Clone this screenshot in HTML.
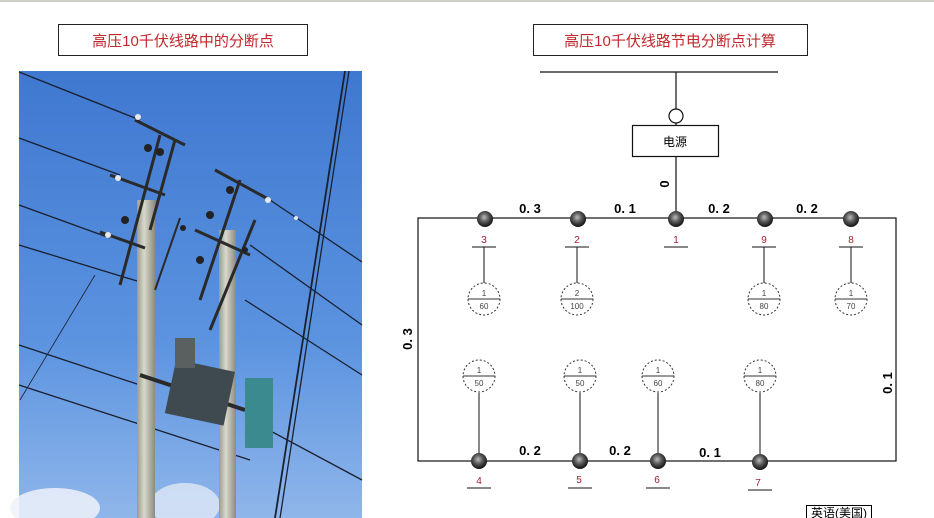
<!DOCTYPE html>
<html><head><meta charset="utf-8"><style>
html,body{margin:0;padding:0;background:#fff;}
svg{display:block;}
.t{font-family:"Liberation Sans","Noto Sans CJK SC",sans-serif;}
</style></head><body>
<svg width="934" height="518" viewBox="0 0 934 518" xmlns="http://www.w3.org/2000/svg">
<defs>
<linearGradient id="sky" x1="0" y1="0" x2="0" y2="1">
<stop offset="0" stop-color="#3f78d0"/><stop offset="0.6" stop-color="#5b93e0"/><stop offset="1" stop-color="#8fb6ea"/></linearGradient>
<radialGradient id="ball" cx="0.45" cy="0.4" r="0.6">
<stop offset="0" stop-color="#bbb"/><stop offset="0.5" stop-color="#555"/><stop offset="1" stop-color="#111"/></radialGradient>
<linearGradient id="pole" x1="0" x2="1"><stop offset="0" stop-color="#9a9a90"/><stop offset="0.4" stop-color="#d8d8cc"/><stop offset="1" stop-color="#8a8a80"/></linearGradient>
</defs>
<rect x="0" y="0" width="934" height="2" fill="#d0d0c8"/>
<rect x="58.5" y="24.5" width="249" height="31" fill="#fff" stroke="#222"/>
<text x="183" y="46" class="t" font-size="15" fill="#c0282c" text-anchor="middle">高压10千伏线路中的分断点</text>
<rect x="19" y="71" width="343" height="447" fill="url(#sky)"/>
<ellipse cx="55" cy="508" rx="45" ry="20" fill="#eef2fa" opacity="0.85"/>
<ellipse cx="185" cy="505" rx="35" ry="22" fill="#e6ecf8" opacity="0.75"/>
<g stroke="#1a2030" stroke-width="1.3" fill="none">
<line x1="19" y1="72" x2="140" y2="120"/>
<line x1="19" y1="138" x2="120" y2="175"/>
<line x1="19" y1="205" x2="110" y2="238"/>
<line x1="19" y1="245" x2="150" y2="285"/>
<line x1="19" y1="345" x2="140" y2="385"/>
<line x1="19" y1="385" x2="250" y2="460"/>
<line x1="270" y1="200" x2="362" y2="262"/>
<line x1="250" y1="245" x2="362" y2="325"/>
<line x1="245" y1="300" x2="362" y2="375"/>
<line x1="250" y1="420" x2="362" y2="480"/>
<line x1="345" y1="71" x2="275" y2="518" stroke-width="1.8"/>
<line x1="349" y1="71" x2="280" y2="518"/>
<line x1="95" y1="275" x2="20" y2="400" stroke-width="0.8"/>
</g>
<rect x="137" y="200" width="18" height="318" fill="url(#pole)"/>
<rect x="219" y="230" width="17" height="288" fill="url(#pole)"/>
<g stroke="#2a2a2a" stroke-width="3" fill="none">
<line x1="135" y1="120" x2="185" y2="145"/>
<line x1="110" y1="175" x2="165" y2="195"/>
<line x1="100" y1="232" x2="145" y2="248"/>
<line x1="215" y1="170" x2="270" y2="200"/>
<line x1="195" y1="230" x2="250" y2="255"/>
<line x1="160" y1="135" x2="120" y2="285"/>
<line x1="175" y1="140" x2="150" y2="230"/>
<line x1="240" y1="180" x2="200" y2="300"/>
<line x1="255" y1="220" x2="210" y2="330"/>
<line x1="180" y1="218" x2="155" y2="290" stroke-width="2"/>
<line x1="140" y1="375" x2="245" y2="410" stroke-width="4"/>
</g>
<g fill="#222">
<circle cx="148" cy="148" r="4"/><circle cx="160" cy="152" r="4"/><circle cx="125" cy="220" r="4"/><circle cx="230" cy="190" r="4"/><circle cx="210" cy="215" r="4"/><circle cx="200" cy="260" r="4"/><circle cx="245" cy="250" r="3"/><circle cx="183" cy="228" r="3"/>
</g>
<g fill="#e8e8e8"><circle cx="138" cy="117" r="3"/><circle cx="118" cy="178" r="3"/><circle cx="108" cy="235" r="3"/><circle cx="268" cy="200" r="3"/><circle cx="296" cy="218" r="2"/></g>
<rect x="170" y="365" width="60" height="55" fill="#3e4a50" transform="rotate(12 200 392)"/>
<rect x="175" y="338" width="20" height="30" fill="#5a6060"/>
<rect x="245" y="378" width="28" height="70" fill="#3a8a90"/>
<rect x="533.5" y="24.5" width="274" height="31" fill="#fff" stroke="#222"/>
<text x="670" y="46" class="t" font-size="15" fill="#c0282c" text-anchor="middle">高压10千伏线路节电分断点计算</text>
<g stroke="#111" stroke-width="1.2" fill="none">
<line x1="540" y1="72" x2="778" y2="72"/>
<line x1="676" y1="72" x2="676" y2="109"/>
<circle cx="676" cy="116" r="7" fill="#fff"/>
<line x1="676" y1="123" x2="676" y2="125"/>
<rect x="632.5" y="125.5" width="86" height="31" fill="#fff"/>
<line x1="676" y1="157" x2="676" y2="218"/>
<rect x="418" y="218" width="478" height="243"/>
</g>
<text x="675" y="146" class="t" font-size="12" text-anchor="middle" fill="#000">电源</text>
<text x="0" y="0" class="t" font-size="13" font-weight="bold" transform="translate(669,184) rotate(-90)" text-anchor="middle">0</text>
<g class="t" font-size="13" font-weight="bold" fill="#000" text-anchor="middle" font-family="Liberation Mono, monospace">
<text x="530" y="213">0. 3</text><text x="625" y="213">0. 1</text><text x="719" y="213">0. 2</text><text x="807" y="213">0. 2</text>
<text x="530" y="455">0. 2</text><text x="620" y="455">0. 2</text><text x="710" y="457">0. 1</text>
<text transform="translate(412,339) rotate(-90)">0. 3</text>
<text transform="translate(892,383) rotate(-90)">0. 1</text>
</g>
<g class="t" font-size="10" fill="#a02030" text-anchor="middle">
<text x="484" y="243">3</text><text x="577" y="243">2</text><text x="676" y="243">1</text><text x="764" y="243">9</text><text x="851" y="243">8</text>
<text x="479" y="484">4</text><text x="579" y="483">5</text><text x="657" y="483">6</text><text x="758" y="486">7</text>
</g>
<g stroke="#111" stroke-width="1">
<line x1="472" y1="247" x2="496" y2="247"/><line x1="565" y1="247" x2="589" y2="247"/><line x1="664" y1="247" x2="688" y2="247"/><line x1="752" y1="247" x2="776" y2="247"/><line x1="839" y1="247" x2="863" y2="247"/>
<line x1="467" y1="488" x2="491" y2="488"/><line x1="568" y1="488" x2="592" y2="488"/><line x1="646" y1="488" x2="670" y2="488"/><line x1="748" y1="490" x2="772" y2="490"/>
<line x1="484" y1="247" x2="484" y2="284"/><line x1="577" y1="247" x2="577" y2="284"/><line x1="764" y1="247" x2="764" y2="284"/><line x1="851" y1="247" x2="851" y2="284"/>
<line x1="479" y1="393" x2="479" y2="461"/><line x1="580" y1="393" x2="580" y2="461"/><line x1="658" y1="393" x2="658" y2="461"/><line x1="760" y1="393" x2="760" y2="461"/>
</g>
<g fill="url(#ball)">
<circle cx="485" cy="219" r="8"/><circle cx="578" cy="219" r="8"/><circle cx="676" cy="219" r="8"/><circle cx="765" cy="219" r="8"/><circle cx="851" cy="219" r="8"/>
<circle cx="479" cy="461" r="8"/><circle cx="580" cy="461" r="8"/><circle cx="658" cy="461" r="8"/><circle cx="760" cy="462" r="8"/>
</g>
<g class="t" font-size="8" fill="#444" text-anchor="middle">
<g transform="translate(484,299)"><circle r="16" fill="#fff" stroke="#333" stroke-dasharray="2,2"/><line x1="-16" y1="0" x2="16" y2="0" stroke="#333"/><text y="-3">1</text><text y="10">60</text></g>
<g transform="translate(577,299)"><circle r="16" fill="#fff" stroke="#333" stroke-dasharray="2,2"/><line x1="-16" y1="0" x2="16" y2="0" stroke="#333"/><text y="-3">2</text><text y="10">100</text></g>
<g transform="translate(764,299)"><circle r="16" fill="#fff" stroke="#333" stroke-dasharray="2,2"/><line x1="-16" y1="0" x2="16" y2="0" stroke="#333"/><text y="-3">1</text><text y="10">80</text></g>
<g transform="translate(851,299)"><circle r="16" fill="#fff" stroke="#333" stroke-dasharray="2,2"/><line x1="-16" y1="0" x2="16" y2="0" stroke="#333"/><text y="-3">1</text><text y="10">70</text></g>
<g transform="translate(479,376)"><circle r="16" fill="#fff" stroke="#333" stroke-dasharray="2,2"/><line x1="-16" y1="0" x2="16" y2="0" stroke="#333"/><text y="-3">1</text><text y="10">50</text></g>
<g transform="translate(580,376)"><circle r="16" fill="#fff" stroke="#333" stroke-dasharray="2,2"/><line x1="-16" y1="0" x2="16" y2="0" stroke="#333"/><text y="-3">1</text><text y="10">50</text></g>
<g transform="translate(658,376)"><circle r="16" fill="#fff" stroke="#333" stroke-dasharray="2,2"/><line x1="-16" y1="0" x2="16" y2="0" stroke="#333"/><text y="-3">1</text><text y="10">60</text></g>
<g transform="translate(760,376)"><circle r="16" fill="#fff" stroke="#333" stroke-dasharray="2,2"/><line x1="-16" y1="0" x2="16" y2="0" stroke="#333"/><text y="-3">1</text><text y="10">80</text></g>
</g>
<rect x="806.5" y="505.5" width="65" height="14" fill="#fff" stroke="#000"/>
<text x="839" y="517" class="t" font-size="12" text-anchor="middle">英语(美国)</text>
</svg>
</body></html>
